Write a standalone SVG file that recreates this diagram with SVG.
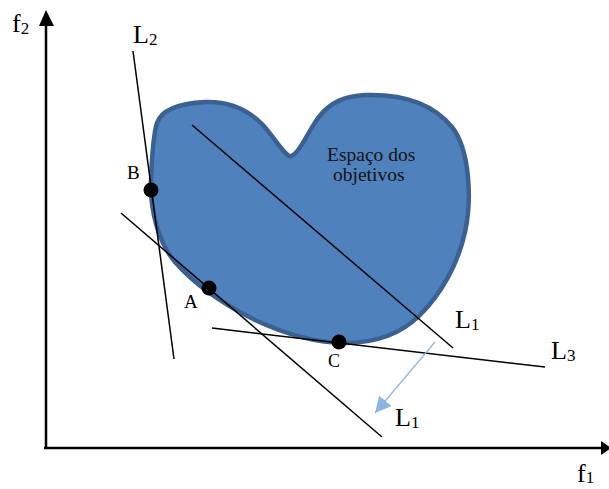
<svg xmlns="http://www.w3.org/2000/svg" width="609" height="489" viewBox="0 0 609 489">
<defs>
<style>
.lbl{font-family:"Liberation Serif","Times New Roman",serif;font-size:26px;fill:#000}
.sub{font-size:17px}
.pt{font-family:"Liberation Serif","Times New Roman",serif;font-size:19px;fill:#000}
.ln{stroke:#000;stroke-width:1.5;fill:none}
.ax{stroke:#000;stroke-width:2.5;fill:none}
.head{fill:#000}
.dot{fill:#000}
</style>
<marker id="ahb" viewBox="0 0 10 10" refX="10" refY="5" markerWidth="16" markerHeight="16" orient="auto" markerUnits="userSpaceOnUse">
<path d="M0,0 L10,5 L0,10 Z" fill="#8DB4E2"/>
</marker>
</defs>
<rect width="609" height="489" fill="#fff"/>
<g id="region">
<path d="M157,123 C162,108 185,103 205,102 C230,101 248,110 262,124 C272,134 281,151 289,156 C297,158 305,137 318,118 C330,102 345,96 365,95 C395,94 430,100 452,127 C470,150 472,200 465,232 C458,265 440,295 420,315 C400,335 375,343 345,343 C315,343 285,334 255,320 C225,305 195,285 175,262 C158,242 150,210 151,180 C152,155 153,135 157,123 Z" fill="#4F81BD" stroke="#3B6193" stroke-width="4.5"/>
<text class="pt" x="327" y="161" style="font-size:19.5px;fill:#111">Espaço dos</text>
<text class="pt" x="333" y="181" style="font-size:19.5px;fill:#111">objetivos</text>
</g>
<g id="axes">
<line class="ax" x1="46" y1="449" x2="46" y2="22"/>
<polygon class="head" points="46,10 39,26 54,26"/>
<line class="ax" x1="44" y1="448" x2="603" y2="448"/>
<polygon class="head" points="611,448 601,441 601,455"/>
<text class="lbl" x="12" y="32">f<tspan class="sub" dy="2">2</tspan></text>
<text class="lbl" x="577" y="482">f<tspan class="sub" dy="1">1</tspan></text>
</g>
<g id="connectors">
<line class="ln" x1="133" y1="51" x2="174" y2="359"/>
<line class="ln" x1="192" y1="125" x2="453" y2="348"/>
<line class="ln" x1="121" y1="213" x2="382" y2="437"/>
<line class="ln" x1="212" y1="328" x2="545" y2="367"/>
<line x1="435" y1="342" x2="375" y2="413" stroke="#8DB4E2" stroke-width="1.2" marker-end="url(#ahb)"/>
</g>
<g id="L2"><text class="lbl" x="133" y="43">L<tspan class="sub" dy="2">2</tspan></text></g>
<g id="L1a"><text class="lbl" x="455" y="328">L<tspan class="sub" dy="2">1</tspan></text></g>
<g id="L1b"><text class="lbl" x="395" y="426">L<tspan class="sub" dy="2">1</tspan></text></g>
<g id="L3"><text class="lbl" x="551" y="359">L<tspan class="sub" dy="2">3</tspan></text></g>
<g id="B"><circle class="dot" cx="151" cy="190" r="7.5"/><text class="pt" x="127" y="179">B</text></g>
<g id="A"><circle class="dot" cx="209" cy="288" r="7.5"/><text class="pt" x="184" y="308">A</text></g>
<g id="C"><circle class="dot" cx="339" cy="342" r="7.5"/><text class="pt" x="328" y="367" style="font-size:18px">C</text></g>
</svg>
